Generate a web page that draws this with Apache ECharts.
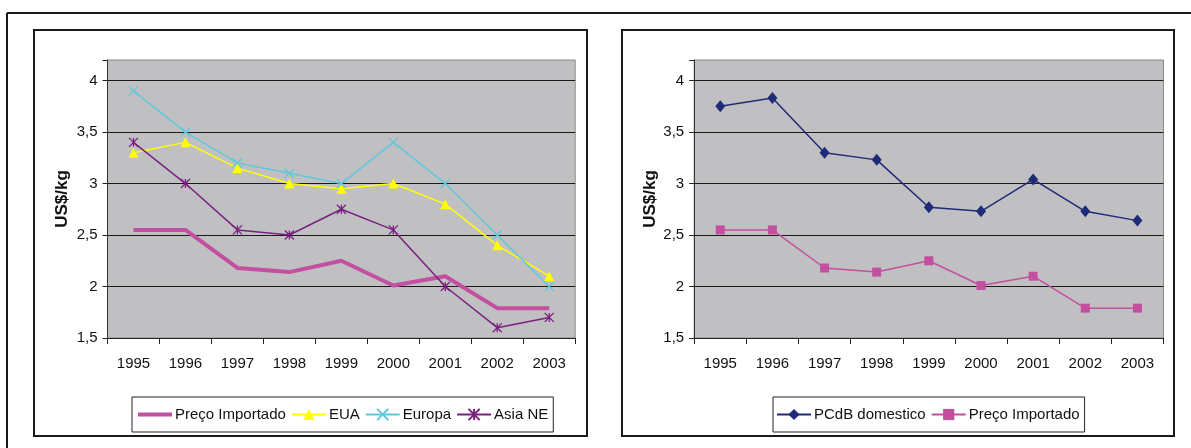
<!DOCTYPE html>
<html>
<head>
<meta charset="utf-8">
<script src="https://cdn.jsdelivr.net/npm/echarts@6/dist/echarts.min.js"></script>
<style>
  html, body { margin: 0; padding: 0; background: #ffffff; }
  #wrap { position: relative; width: 1191px; height: 448px; overflow: hidden; }
  #left { position: absolute; left: 0; top: 0; width: 600px; height: 448px; }
  #right { position: absolute; left: 600px; top: 0; width: 591px; height: 448px; }
</style>
</head>
<body>
<div id="wrap"><div id="left"></div><div id="right"></div></div>
<script>
// Years on the category axis
const years = ['1995', '1996', '1997', '1998', '1999', '2000', '2001', '2002', '2003'];

// Prices in US$/kg
const precoImportado = [2.55, 2.55, 2.18, 2.14, 2.25, 2.01, 2.10, 1.79, 1.79];
const eua = [3.30, 3.40, 3.15, 3.00, 2.95, 3.00, 2.80, 2.40, 2.10];
const europa = [3.90, 3.50, 3.20, 3.10, 3.00, 3.40, 3.00, 2.50, 2.00];
const asiaNE = [3.40, 3.00, 2.55, 2.50, 2.75, 2.55, 2.00, 1.60, 1.70];
const pcdbDomestico = [3.75, 3.83, 3.30, 3.23, 2.77, 2.73, 3.04, 2.73, 2.64];

// Value axis settings
const yMin = 1.5, yMax = 4.2, yStep = 0.5;
const yTitle = 'US$/kg';

const FONT = "'Liberation Sans', Arial, sans-serif";
const PINK = '#c24f9f', YELLOW = '#ffff00', CYAN = '#5fc8dc', PURPLE = '#7a2080', NAVY = '#1f2a78';

const crossPath = 'path://M0,0L10,10M10,0L0,10';
const starPath = 'path://M0,0L10,10M10,0L0,10M5,0L5,10';

function yLabel(v) {
  const k = v / yStep;
  if (Math.abs(k - Math.round(k)) > 1e-6) return '';
  return String(v).replace('.', ',');
}

function baseOption(gridLeft, gridWidth, nameGap) {
  return {
    animation: false,
    backgroundColor: '#ffffff',
    textStyle: { fontFamily: FONT },
    grid: {
      left: gridLeft, top: 60, width: gridWidth, height: 278,
      show: true, backgroundColor: '#c0c0c2', borderColor: '#8a8a8a', borderWidth: 1
    },
    xAxis: {
      type: 'category', data: years, boundaryGap: true,
      axisLine: { lineStyle: { color: '#222', width: 1 } },
      axisTick: { show: true, length: 6, lineStyle: { color: '#222' } },
      axisLabel: { color: '#111', fontSize: 15, fontFamily: FONT, margin: 18 },
      splitLine: { show: false }
    },
    yAxis: {
      type: 'value', min: yMin, max: yMax, interval: yStep,
      name: yTitle, nameLocation: 'middle', nameRotate: 90, nameGap: nameGap,
      nameMoveOverlap: false,
      nameTextStyle: { fontSize: 17, fontWeight: 'bold', color: '#111', fontFamily: FONT },
      axisLine: { show: true, lineStyle: { color: '#333', width: 1 } },
      axisTick: { show: true, length: 5, lineStyle: { color: '#222' } },
      axisLabel: { color: '#111', fontSize: 15, fontFamily: FONT, margin: 10, formatter: yLabel },
      splitLine: { show: true, showMaxLine: false, lineStyle: { color: '#1a1a1a', width: 1 } }
    }
  };
}

function lineSeries(name, data, color, symbol, size, width, strokeSymbol) {
  return {
    type: 'line', name: name, data: data,
    symbol: symbol, symbolSize: size, showSymbol: symbol !== 'none',
    lineStyle: { color: color, width: width },
    itemStyle: strokeSymbol
      ? { color: color, borderColor: color, borderWidth: 1.3 }
      : { color: color, borderWidth: 0 },
    emphasis: { disabled: true }
  };
}

const legendCommon = {
  orient: 'horizontal', top: 397,
  itemWidth: 34, itemHeight: 14, itemGap: 5,
  borderColor: '#222', borderWidth: 1,
  textStyle: { fontSize: 15, color: '#111', fontFamily: FONT, padding: [0, 0, 0, -2] },
  selectedMode: false
};

// Left chart: imported price against the international markets
const leftOpt = baseOption(107.5, 467.7, 37);
leftOpt.graphic = [
  { type: 'line', shape: { x1: 7, y1: 13, x2: 600, y2: 13 }, style: { stroke: '#1a1a1a', lineWidth: 2 } },
  { type: 'line', shape: { x1: 7, y1: 13, x2: 7, y2: 448 }, style: { stroke: '#1a1a1a', lineWidth: 2 } },
  { type: 'rect', shape: { x: 34, y: 30, width: 553, height: 406 }, style: { fill: null, stroke: '#1a1a1a', lineWidth: 2 } }
];
leftOpt.legend = Object.assign({}, legendCommon, {
  left: 132, padding: [10, 5, 10, 4],
  data: [
    { name: 'Preço Importado', lineStyle: { width: 4 }, itemStyle: { opacity: 0 } },
    'EUA', 'Europa', 'Asia NE'
  ]
});
leftOpt.series = [
  lineSeries('Preço Importado', precoImportado, PINK, 'none', 0, 4, false),
  lineSeries('EUA', eua, YELLOW, 'triangle', 10, 1.5, false),
  lineSeries('Europa', europa, CYAN, crossPath, 9, 1.5, true),
  lineSeries('Asia NE', asiaNE, PURPLE, starPath, 9, 1.5, true)
];

// Right chart: domestic price against the imported price
const rightOpt = baseOption(94.2, 469.3, 35);
rightOpt.graphic = [
  { type: 'line', shape: { x1: 0, y1: 13, x2: 591, y2: 13 }, style: { stroke: '#1a1a1a', lineWidth: 2 } },
  { type: 'rect', shape: { x: 22, y: 30, width: 552, height: 406 }, style: { fill: null, stroke: '#1a1a1a', lineWidth: 2 } }
];
rightOpt.legend = Object.assign({}, legendCommon, {
  left: 173, padding: [10, 5, 10, 3],
  data: ['PCdB domestico', 'Preço Importado']
});
rightOpt.series = [
  lineSeries('PCdB domestico', pcdbDomestico, NAVY, 'diamond', [10, 12], 1.5, false),
  lineSeries('Preço Importado', precoImportado, PINK, 'rect', 9, 1.5, false)
];

echarts.init(document.getElementById('left'), null, { renderer: 'canvas' }).setOption(leftOpt);
echarts.init(document.getElementById('right'), null, { renderer: 'canvas' }).setOption(rightOpt);
</script>
</body>
</html>
